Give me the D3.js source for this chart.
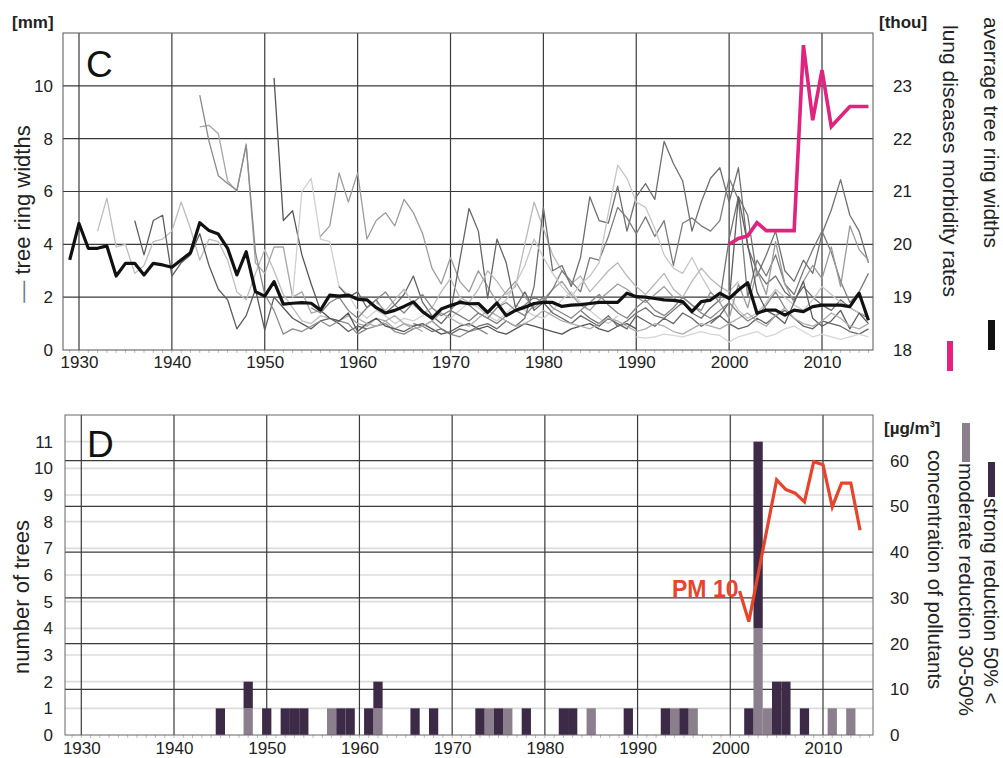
<!DOCTYPE html>
<html>
<head>
<meta charset="utf-8">
<script src="https://cdn.jsdelivr.net/npm/d3@7"></script>
<style>
body { margin: 0; background: #fff; }
svg { font-family: "Liberation Sans", Arial, sans-serif; }
</style>
</head>
<body>
<svg id="chart" width="1003" height="758"></svg>
<script>
// ---- data ----
var decadeTicks = [1930, 1940, 1950, 1960, 1970, 1980, 1990, 2000, 2010];
var mmTicks = [0, 2, 4, 6, 8, 10];
var thouTicks = [18, 19, 20, 21, 22, 23];
var treeTicks = [0, 1, 2, 3, 4, 5, 6, 7, 8, 9, 10, 11];
var pmTicks = [0, 10, 20, 30, 40, 50, 60];

// average tree ring width, 1929-2015
var avgStart = 1929;
var avgWidths = [3.41, 4.79, 3.85, 3.85, 3.94, 2.80, 3.28, 3.28, 2.84, 3.28,
  3.22, 3.13, 3.41, 3.68, 4.82, 4.52, 4.39, 3.85, 2.84, 3.72,
  2.21, 2.04, 2.59, 1.74, 1.77, 1.79, 1.77, 1.51, 2.08, 2.04,
  2.08, 1.92, 1.90, 1.60, 1.40, 1.50, 1.65, 1.82, 1.45, 1.20,
  1.55, 1.68, 1.80, 1.75, 1.76, 1.42, 1.78, 1.30, 1.50, 1.62,
  1.76, 1.80, 1.80, 1.65, 1.70, 1.72, 1.76, 1.80, 1.80, 1.80,
  2.15, 2.02, 2.00, 1.95, 1.90, 1.88, 1.83, 1.45, 1.83, 1.89,
  2.15, 1.95, 2.27, 2.55, 1.39, 1.51, 1.51, 1.32, 1.51, 1.45,
  1.64, 1.70, 1.70, 1.70, 1.64, 2.15, 1.13];

// individual trees: first year and ring widths
var treeStarts = [1932, 1936, 1943, 1943, 1951, 1953, 1956, 1958, 1962, 1966,
  1970, 1975, 1984, 1995, 1990, 1998, 1960, 1955];
var treeWidths = [
  [4.5, 5.75, 3.9, 4.0, 2.9, 3.2, 4.1, 4.2, 4.5, 5.6, 4.6, 3.4, 4.2, 4.1, 3.4, 2.2, 1.9, 2.9, 3.8, 3.0, 2.1, 1.6, 1.1, 1.0, 1.3, 1.2],
  [4.9, 3.6, 4.9, 5.1, 2.8, 3.3, 3.6, 4.4, 3.2, 2.3, 1.9, 0.8, 1.3, 2.3, 0.75, 2.0, 1.6, 1.2, 1.0, 0.8, 1.1, 1.2, 1.0, 0.7, 0.9, 0.8],
  [8.45, 8.5, 8.2, 6.4, 6.0, 7.8, 3.3, 2.9, 3.9, 3.9, 2.0, 2.2, 1.4, 1.5, 1.2, 1.1, 1.3, 1.0, 0.9, 1.2, 1.1, 0.8, 1.0, 0.9, 0.7],
  [9.65, 7.9, 6.6, 6.3, 6.05, 7.75, 3.7, 2.1, 1.5, 0.6, 0.8, 0.7, 0.9, 1.1, 0.9, 1.1, 1.0, 0.6, 0.8, 0.9, 1.0, 0.7, 0.6, 0.8, 0.9, 1.1, 0.8, 0.6, 0.5, 0.7, 0.8, 0.6],
  [10.3, 4.9, 5.27, 3.6, 2.5, 1.5, 1.2, 1.1, 1.4, 0.7, 1.0, 1.2, 0.9, 0.8, 0.7, 0.9, 1.0, 0.8, 0.6, 0.7, 0.9, 1.0, 0.8, 0.9, 0.7, 0.6, 0.8, 1.0, 0.9, 0.8, 0.7, 0.6, 0.8, 0.9, 1.0, 0.8, 0.7, 0.9, 1.0, 0.8],
  [2.0, 6.0, 6.5, 4.2, 4.1, 2.4, 2.1, 1.5, 1.2, 1.5, 1.3, 1.0, 1.2, 1.1, 1.3, 1.6, 1.4, 1.2, 1.5, 1.8, 1.6, 1.3, 1.1, 1.4, 1.7, 1.5, 1.3, 1.2, 1.5, 1.9, 2.2, 1.8, 1.5, 1.2, 1.0, 1.3],
  [4.3, 4.7, 6.7, 5.6, 6.7, 4.2, 4.9, 5.2, 4.7, 5.7, 5.2, 4.4, 3.1, 2.5, 3.5, 2.6, 2.2, 3.0, 2.4, 1.8, 2.2, 2.6, 2.0, 1.6, 1.9, 2.3, 2.6, 2.1, 1.7, 1.5, 1.9, 2.2, 2.5, 2.3, 2.0, 1.8, 2.1, 2.4, 2.0, 1.7],
  [2.4, 2.0, 2.2, 1.6, 1.9, 1.4, 1.7, 2.1, 2.8, 1.8, 1.3, 1.0, 1.4, 3.4, 5.36, 4.5, 1.96, 4.2, 3.3, 1.6, 2.2, 1.5, 1.8, 1.4, 1.2, 1.0, 1.3, 1.1, 0.9, 1.2, 1.0, 0.8, 1.3, 1.1, 0.9, 1.2, 1.0, 1.4, 1.2, 0.9, 1.1, 1.3, 1.0, 0.8, 0.9, 1.2, 1.0, 1.3, 1.5, 1.2, 0.9, 0.8, 1.1, 1.0, 0.9, 0.7, 0.6, 0.8],
  [1.8, 1.5, 1.9, 2.3, 1.7, 1.4, 1.6, 2.2, 2.7, 2.0, 1.8, 2.3, 3.0, 2.6, 2.1, 2.4, 4.0, 5.6, 4.6, 3.6, 3.0, 2.5, 2.8, 2.2, 2.6, 3.0, 3.3, 2.8, 2.4, 2.1, 2.5, 2.9, 2.3, 2.0, 2.6, 3.1, 2.7, 2.4, 2.2, 2.6],
  [1.0, 0.9, 0.7, 0.8, 0.6, 0.8, 0.7, 0.9, 1.0, 0.8, 1.1, 0.9, 1.2, 2.4, 5.4, 3.0, 3.2, 2.4, 3.5, 5.8, 4.9, 4.8, 6.2, 4.5, 5.8, 6.3, 5.7, 7.9, 7.06, 6.4, 4.5, 5.6, 6.5, 6.9, 5.6, 6.9, 3.9, 3.0, 2.5, 2.8, 2.2, 1.9, 2.4, 2.0, 1.7, 1.5, 1.9, 1.6, 1.4, 1.2],
  [1.5, 1.3, 1.1, 1.4, 1.2, 1.0, 1.3, 1.5, 1.7, 2.0, 1.8, 2.3, 3.0, 2.6, 2.2, 3.5, 3.4, 4.3, 5.4, 5.0, 4.4, 5.04, 4.3, 4.9, 3.2, 4.8, 5.0, 4.7, 4.5, 4.9, 6.5, 5.7, 2.0, 3.4, 2.8, 3.6, 2.5, 2.1, 3.0, 3.8, 4.5, 3.7, 2.6, 1.8, 2.2, 2.9],
  [1.6, 1.9, 2.5, 3.2, 4.2, 3.5, 2.9, 2.4, 2.0, 2.5, 2.8, 3.3, 5.2, 7.0, 6.5, 5.6, 5.4, 4.6, 3.6, 3.1, 2.9, 3.5, 2.8, 2.2, 1.8, 2.1, 1.5, 1.2, 1.4, 1.8, 2.3, 2.0, 1.7, 1.5, 1.9, 2.4, 2.1, 1.8, 1.6, 1.4, 1.3],
  [1.5, 1.2, 1.0, 1.3, 0.9, 1.1, 1.4, 1.6, 1.3, 1.2, 1.5, 1.8, 1.4, 1.2, 1.6, 1.9, 4.2, 5.8, 5.1, 2.8, 3.6, 4.5, 3.0, 2.6, 3.4, 2.9, 4.4, 5.3, 6.45, 5.1, 4.5, 3.3],
  [2.0, 1.7, 1.5, 2.2, 1.8, 1.2, 2.5, 1.6, 3.0, 2.1, 4.1, 2.5, 1.8, 2.6, 3.2, 2.7, 3.9, 2.4, 4.7, 3.8, 3.4],
  [0.5, 0.45, 0.5, 0.6, 0.55, 0.5, 0.6, 0.7, 0.6, 0.55, 0.3, 0.5, 0.6, 0.7, 0.5, 0.6, 0.8, 0.9, 0.7, 0.5, 0.6, 0.5, 0.4, 0.5, 0.6, 0.5],
  [1.0, 1.3, 1.8, 5.8, 4.0, 2.2, 1.5, 1.3, 1.0, 1.8, 2.6, 1.2, 0.9, 1.1, 1.5, 0.8, 1.4, 1.0],
  [1.2, 1.0, 0.9, 1.1, 1.3, 1.0, 0.8, 0.9, 1.1, 1.4, 1.2, 1.0, 0.9, 1.2, 1.5, 1.3, 1.1, 0.9, 1.0, 1.2, 1.5, 1.3, 1.1, 1.0, 0.9, 0.8, 1.0, 1.2, 1.1, 0.9, 0.7, 0.8, 1.0, 0.9, 0.7, 0.6, 0.8, 1.0, 0.9, 0.8, 1.0, 1.2, 1.4, 1.1, 0.9, 1.3, 1.6, 1.2, 1.0, 0.9, 1.1, 1.4, 1.2, 0.9, 0.8, 1.0],
  [1.6, 1.4, 1.8, 2.0, 1.5, 1.2, 1.6, 1.9, 2.2, 1.7, 1.4, 1.8, 2.1, 1.6, 1.3, 1.5, 1.9, 1.7, 1.4, 1.2, 1.6, 1.8, 1.5, 1.3, 1.7, 2.0, 1.6, 1.4, 1.2, 1.5, 1.8, 2.1, 1.7, 1.4, 1.2, 1.6, 1.9, 1.5, 1.3, 1.6, 2.0, 1.7, 1.4, 1.2, 1.5, 1.8, 1.4, 1.1, 1.3, 1.7, 2.2, 1.6]
];

// lung diseases morbidity rates [thou]
var lungYears = [2000, 2001, 2002, 2003, 2004, 2005, 2006, 2007, 2008, 2009, 2010, 2011, 2012, 2013, 2014, 2015];
var lungRates = [20.0, 20.11, 20.16, 20.41, 20.26, 20.26, 20.26, 20.26, 23.77, 22.35, 23.3, 22.23, 22.42, 22.61, 22.61, 22.61];

// number of trees with growth reduction
var barYears = [1945, 1948, 1950, 1952, 1953, 1954, 1957, 1958, 1959, 1961, 1962, 1966, 1968,
  1973, 1974, 1975, 1976, 1978, 1982, 1983, 1985, 1989, 1993, 1994, 1995, 1996,
  2002, 2003, 2004, 2005, 2006, 2008, 2011, 2013];
var strongCounts = [1, 1, 1, 1, 1, 1, 0, 1, 1, 1, 1, 1, 1,
  1, 0, 1, 0, 1, 1, 1, 0, 1, 1, 0, 1, 0,
  1, 7, 0, 2, 2, 1, 0, 0];
var moderateCounts = [0, 1, 0, 0, 0, 0, 1, 0, 0, 0, 1, 0, 0,
  0, 1, 0, 1, 0, 0, 0, 1, 0, 0, 1, 0, 1,
  0, 4, 1, 0, 0, 0, 1, 1];

// PM10 concentration [µg/m3]
var pmYears = [2001, 2002, 2005, 2006, 2007, 2008, 2009, 2010, 2011, 2012, 2013, 2014];
var pmValues = [31.5, 24.8, 55.8, 53.7, 52.9, 51.0, 59.8, 59.1, 49.9, 55.1, 55.1, 44.8];

// ---- drawing ----
var svg = d3.select("#chart");
var font = 17;
var gridDark = "#3a3a3a";
var grayShades = ["#bdbdbd", "#5c5c5c", "#a6a6a6", "#8a8a8a", "#555555", "#cfcfcf",
  "#9c9c9c", "#666666", "#b8b8b8", "#6f6f6f", "#7c7c7c", "#c6c6c6", "#727272",
  "#9a9a9a", "#d6d6d6", "#5e5e5e", "#adadad", "#858585"];

// panel C
var c = {left: 63, right: 873, top: 33, bottom: 350};
var xC = d3.scaleLinear().domain([1930, 2010]).range([79, 822]);
var yC = d3.scaleLinear().domain([0, 12]).range([c.bottom, c.top]);
var yLung = d3.scaleLinear().domain([18, 24]).range([c.bottom, c.top]);

// panel D
var p = {left: 65, right: 873, top: 415, bottom: 735};
var xD = d3.scaleLinear().domain([1930, 2010]).range([81.3, 823]);
var yD = d3.scaleLinear().domain([0, 12]).range([p.bottom, p.top]);
var yPM = d3.scaleLinear().domain([0, 70]).range([p.bottom, p.top]);

var defs = svg.append("defs");
defs.append("clipPath").attr("id", "clipC").append("rect")
  .attr("x", c.left).attr("y", c.top).attr("width", c.right - c.left).attr("height", c.bottom - c.top);
defs.append("clipPath").attr("id", "clipD").append("rect")
  .attr("x", p.left).attr("y", p.top).attr("width", p.right - p.left).attr("height", p.bottom - p.top);

function yearTicks(g, x, y0) {
  g.selectAll("line.minor").data(d3.range(1929, 2016)).enter().append("line")
    .attr("x1", d => x(d)).attr("x2", d => x(d))
    .attr("y1", y0).attr("y2", y0 + 3)
    .attr("stroke", "#bbb").attr("stroke-width", 1);
}

function styleAxis(g) {
  g.select(".domain").remove();
  g.selectAll("text").attr("font-size", font).attr("fill", "#222")
    .attr("font-family", '"Liberation Sans", Arial, sans-serif');
}

// --- C grid ---
var gC = svg.append("g");
gC.selectAll("line.h").data(mmTicks.slice(1)).enter().append("line")
  .attr("x1", c.left).attr("x2", c.right)
  .attr("y1", d => yC(d)).attr("y2", d => yC(d))
  .attr("stroke", gridDark).attr("stroke-width", 1.2);
gC.selectAll("line.v").data(decadeTicks).enter().append("line")
  .attr("x1", d => xC(d)).attr("x2", d => xC(d))
  .attr("y1", c.top).attr("y2", c.bottom)
  .attr("stroke", gridDark).attr("stroke-width", 1.2);
yearTicks(gC, xC, c.bottom);

// gray tree lines
var treeLine = d3.line().x(d => xC(d[0])).y(d => yC(d[1]));
var gLines = svg.append("g").attr("clip-path", "url(#clipC)");
treeWidths.forEach(function(vals, i) {
  var pts = vals.map((v, k) => [treeStarts[i] + k, v]);
  gLines.append("path").datum(pts).attr("d", treeLine)
    .attr("fill", "none").attr("stroke", grayShades[i]).attr("stroke-width", 1.3)
    .attr("stroke-linejoin", "round");
});

// average line
var avgPts = avgWidths.map((v, k) => [avgStart + k, v]);
gLines.append("path").datum(avgPts).attr("d", treeLine)
  .attr("fill", "none").attr("stroke", "#111").attr("stroke-width", 3.2)
  .attr("stroke-linejoin", "round");

// lung morbidity line
var lungLine = d3.line().x((d, i) => xC(lungYears[i])).y(d => yLung(d));
gLines.append("path").datum(lungRates).attr("d", lungLine)
  .attr("fill", "none").attr("stroke", "#e0237f").attr("stroke-width", 3.6)
  .attr("stroke-linejoin", "miter");

svg.append("rect").attr("x", c.left).attr("y", c.top)
  .attr("width", c.right - c.left).attr("height", c.bottom - c.top)
  .attr("fill", "none").attr("stroke", "#555").attr("stroke-width", 1);

// C axes
svg.append("g").attr("transform", "translate(0," + c.bottom + ")")
  .call(d3.axisBottom(xC).tickValues(decadeTicks).tickSize(0).tickPadding(6).tickFormat(d3.format("d")))
  .call(styleAxis);
svg.append("g").attr("transform", "translate(" + c.left + ",0)")
  .call(d3.axisLeft(yC).tickValues(mmTicks).tickSize(0).tickPadding(10).tickFormat(d3.format("d")))
  .call(styleAxis);
svg.append("g").attr("transform", "translate(" + c.right + ",0)")
  .call(d3.axisRight(yLung).tickValues(thouTicks).tickSize(0).tickPadding(20).tickFormat(d3.format("d")))
  .call(styleAxis);

// --- D grid ---
var gD = svg.append("g");
gD.selectAll("line.t").data(treeTicks.slice(1)).enter().append("line")
  .attr("x1", p.left).attr("x2", p.right)
  .attr("y1", d => yD(d)).attr("y2", d => yD(d))
  .attr("stroke", "#dcdcdc").attr("stroke-width", 1.6);
gD.selectAll("line.h").data(pmTicks.slice(1)).enter().append("line")
  .attr("x1", p.left).attr("x2", p.right)
  .attr("y1", d => yPM(d)).attr("y2", d => yPM(d))
  .attr("stroke", gridDark).attr("stroke-width", 1.2);
gD.selectAll("line.v").data(decadeTicks).enter().append("line")
  .attr("x1", d => xD(d)).attr("x2", d => xD(d))
  .attr("y1", p.top).attr("y2", p.bottom)
  .attr("stroke", gridDark).attr("stroke-width", 1.2);
yearTicks(gD, xD, p.bottom);

// bars
var bw = xD(1) - xD(0);
var gBars = svg.append("g").attr("clip-path", "url(#clipD)");
gBars.selectAll("rect.mod").data(barYears).enter().append("rect")
  .attr("x", d => xD(d) - bw / 2).attr("width", bw)
  .attr("y", (d, i) => yD(moderateCounts[i]))
  .attr("height", (d, i) => yD(0) - yD(moderateCounts[i]))
  .attr("fill", "#8b7f8d");
gBars.selectAll("rect.str").data(barYears).enter().append("rect")
  .attr("x", d => xD(d) - bw / 2).attr("width", bw)
  .attr("y", (d, i) => yD(moderateCounts[i] + strongCounts[i]))
  .attr("height", (d, i) => yD(0) - yD(strongCounts[i]))
  .attr("fill", "#3c2a47");

// PM10 line
var pmLine = d3.line().x((d, i) => xD(pmYears[i])).y(d => yPM(d));
gBars.append("path").datum(pmValues).attr("d", pmLine)
  .attr("fill", "none").attr("stroke", "#e8432b").attr("stroke-width", 3.2)
  .attr("stroke-linejoin", "miter");

svg.append("rect").attr("x", p.left).attr("y", p.top)
  .attr("width", p.right - p.left).attr("height", p.bottom - p.top)
  .attr("fill", "none").attr("stroke", "#666").attr("stroke-width", 1);

svg.append("text").attr("x", 672).attr("y", 597).text("PM 10")
  .attr("font-size", 23).attr("font-weight", "bold").attr("fill", "#e8432b");

// D axes
svg.append("g").attr("transform", "translate(0," + p.bottom + ")")
  .call(d3.axisBottom(xD).tickValues(decadeTicks).tickSize(0).tickPadding(7).tickFormat(d3.format("d")))
  .call(styleAxis);
svg.append("g").attr("transform", "translate(" + p.left + ",0)")
  .call(d3.axisLeft(yD).tickValues(treeTicks).tickSize(0).tickPadding(12).tickFormat(d3.format("d")))
  .call(styleAxis);
svg.append("g").attr("transform", "translate(" + p.right + ",0)")
  .call(d3.axisRight(yPM).tickValues(pmTicks).tickSize(0).tickPadding(17).tickFormat(d3.format("d")))
  .call(styleAxis);

// panel letters and units
svg.append("text").attr("x", 86).attr("y", 77).text("C").attr("font-size", 37).attr("fill", "#111");
svg.append("text").attr("x", 87).attr("y", 457).text("D").attr("font-size", 37).attr("fill", "#111");
svg.append("text").attr("x", 12).attr("y", 28).text("[mm]").attr("font-size", 17).attr("font-weight", "bold").attr("fill", "#222");
svg.append("text").attr("x", 879).attr("y", 28).text("[thou]").attr("font-size", 17).attr("font-weight", "bold").attr("fill", "#222");
var unitD = svg.append("text").attr("x", 884).attr("y", 434).attr("font-size", 17)
  .attr("font-weight", "bold").attr("fill", "#222");
unitD.append("tspan").text("[µg/m");
unitD.append("tspan").attr("font-size", 9).attr("dy", -7).text("3");
unitD.append("tspan").attr("dy", 7).text("]");

// rotated titles
function vtext(x, y, angle, txt, size, anchor) {
  return svg.append("text").attr("transform", "translate(" + x + "," + y + ") rotate(" + angle + ")")
    .attr("text-anchor", anchor).attr("dominant-baseline", "central")
    .attr("font-size", size).attr("fill", "#222").text(txt);
}
var t1 = vtext(22, 214, -90, "", 22, "middle");
t1.append("tspan").attr("fill", "#777").text("— ");
t1.append("tspan").text("tree ring widths");
vtext(21, 597, -90, "number of trees", 22, "middle");
vtext(950, 25, 90, "lung diseases morbidity rates", 21, "start");
vtext(991, 17, 90, "averrage tree ring widths", 21, "start");
vtext(935, 450, 90, "concentration of pollutants", 20.5, "start");
vtext(966, 463, 90, "moderate reduction 30-50%", 20.5, "start");
vtext(991, 498, 90, "strong reduction 50% <", 20, "start");

// legend markers
svg.append("rect").attr("x", 947).attr("y", 341).attr("width", 6).attr("height", 30).attr("fill", "#e0237f");
svg.append("rect").attr("x", 988).attr("y", 320).attr("width", 7).attr("height", 30).attr("fill", "#111");
svg.append("rect").attr("x", 962).attr("y", 423).attr("width", 8).attr("height", 39).attr("fill", "#8b7f8d");
svg.append("rect").attr("x", 988).attr("y", 462).attr("width", 7).attr("height", 35).attr("fill", "#3c2a47");
</script>
</body>
</html>
